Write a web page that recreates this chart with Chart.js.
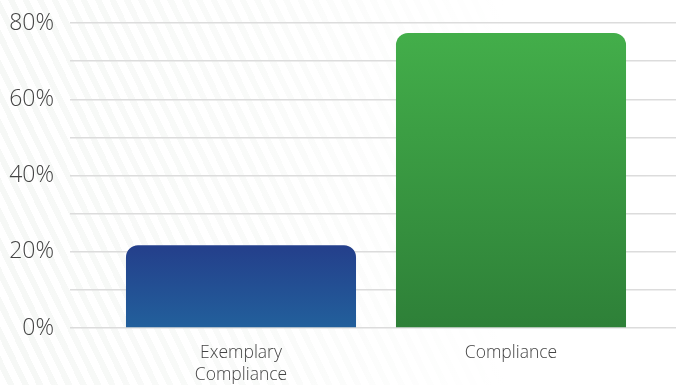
<!DOCTYPE html>
<html>
<head>
<meta charset="utf-8">
<script src="https://cdn.jsdelivr.net/npm/chart.js@4.4.1/dist/chart.umd.min.js"></script>
<style>
  html, body { margin: 0; padding: 0; }
  body {
    width: 676px;
    height: 385px;
    /* faint diagonal stripes fading out to the right */
    background:
      linear-gradient(to right, rgba(255,255,255,0) 0%, rgba(255,255,255,0.4) 40%, #fff 75%),
      repeating-linear-gradient(64deg, #ffffff 0px, #ffffff 7px, #f6f8f6 7px, #f6f8f6 13px);
  }
  #wrap { position: relative; width: 676px; height: 385px; }
</style>
</head>
<body>
<div id="wrap"><canvas id="myChart"></canvas></div>
<script>
const categories = [['Exemplary', 'Compliance'], 'Compliance'];
const values = [21.7, 77.4];
const tickLabels = ['0%', '20%', '40%', '60%', '80%'];

// top / bottom colours of each bar's vertical gradient
const topColors = ['#243f8b', '#43ae4a'];
const bottomColors = ['#22609c', '#2e8038'];

const gridColor = '#dcdcdc';
const textColor = '#444';

function barGradient(context) {
    const chart = context.chart;
    const yScale = chart.scales.y;
    if (!yScale || !chart.chartArea) return topColors[context.dataIndex];
    const i = context.dataIndex;
    const top = yScale.getPixelForValue(values[i]);
    const bottom = yScale.getPixelForValue(0);
    const g = chart.ctx.createLinearGradient(0, top, 0, bottom);
    g.addColorStop(0, topColors[i]);
    g.addColorStop(1, bottomColors[i]);
    return g;
}

// let the plot area start right at the layout padding, labels may overhang
function fitY(width) {
    return scale => {
        scale.width = width;
        scale.paddingTop = 0;
        scale.paddingBottom = 0;
    };
}

var ctx = document.getElementById('myChart').getContext('2d');

var myChart = new Chart(ctx, {
    type: 'bar',
    data: {
        labels: categories,
        datasets: [{
            data: values,
            backgroundColor: barGradient,
            borderWidth: 0,
            borderRadius: { topLeft: 12, topRight: 12, bottomLeft: 0, bottomRight: 0 },
            borderSkipped: false,
            categoryPercentage: 1,
            barPercentage: 0.852
        }]
    },
    options: {
        responsive: true,
        maintainAspectRatio: false,
        animation: false,
        layout: { padding: { top: 23, left: 0, right: 0, bottom: 0 } },
        plugins: {
            legend: { display: false },
            tooltip: { enabled: false }
        },
        scales: {
            x: {
                grid: { display: false },
                border: { display: false },
                ticks: {
                    color: textColor,
                    padding: 6,
                    maxRotation: 0,
                    font: { family: '"Open Sans"', size: 17.5, weight: 300, lineHeight: 1.25 }
                },
                afterFit: scale => { scale.height = 57; }
            },
            y: {
                min: 0,
                max: 80,
                grid: { color: gridColor, lineWidth: 1.5, tickLength: 36, tickColor: gridColor },
                border: { display: false },
                ticks: {
                    stepSize: 10,
                    padding: 16,
                    color: textColor,
                    font: { family: '"Open Sans"', size: 23, weight: 300 },
                    callback: v => (v % 20 === 0 ? tickLabels[v / 20] : '')
                },
                afterFit: fitY(106)
            },
            // right-hand axis only used to carry the grid lines past the plot edge
            yRight: {
                position: 'right',
                min: 0,
                max: 80,
                grid: { drawOnChartArea: false, color: gridColor, lineWidth: 1.5, tickLength: 30, tickColor: gridColor },
                border: { display: false },
                ticks: { stepSize: 10, display: false },
                afterFit: fitY(30)
            }
        }
    }
});
</script>
</body>
</html>
